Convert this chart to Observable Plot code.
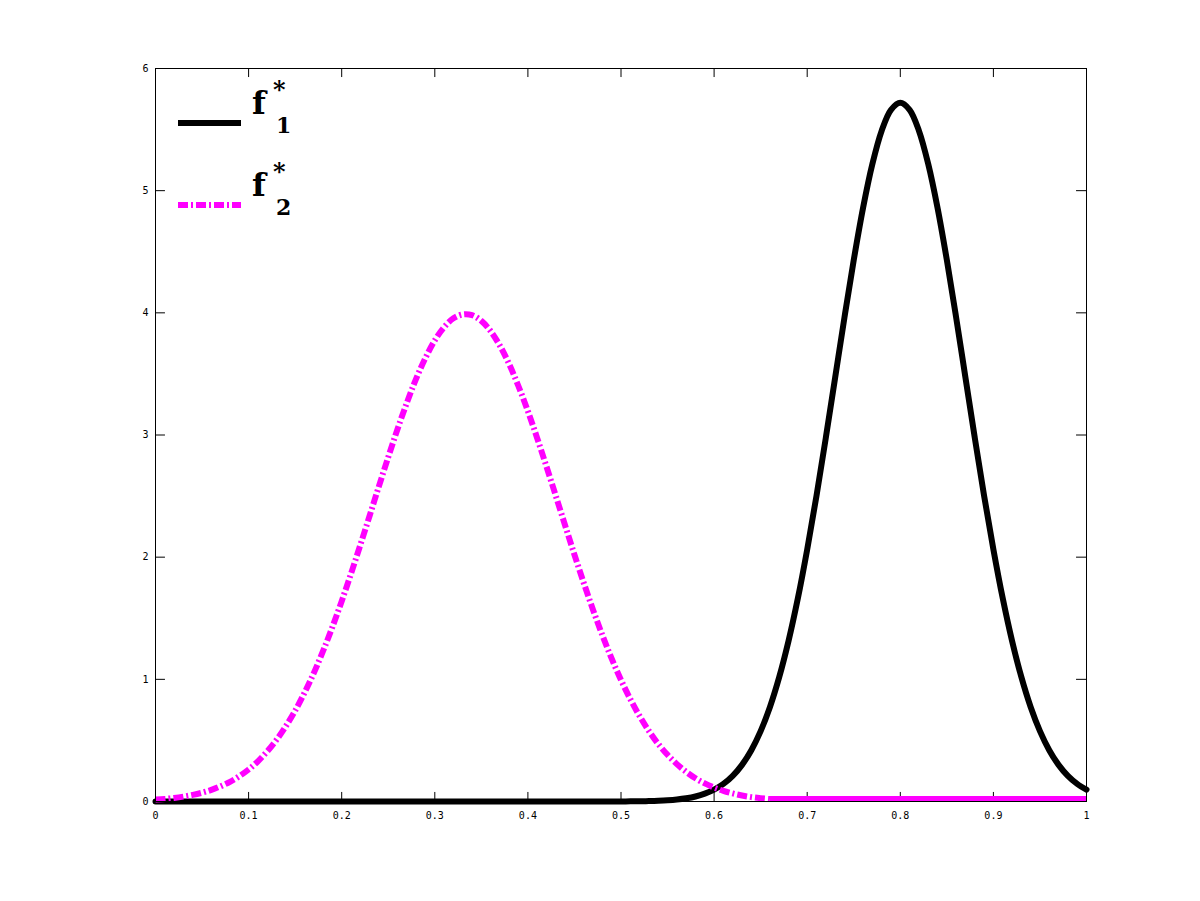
<!DOCTYPE html>
<html>
<head>
<meta charset="utf-8">
<script src="https://cdn.jsdelivr.net/npm/d3@7"></script>
<script src="https://cdn.jsdelivr.net/npm/@observablehq/plot@0.6"></script>
<style>
  html, body { margin: 0; padding: 0; background: #fff; }
  #wrap { position: relative; width: 1200px; height: 901px; }
  #legend { position: absolute; left: 0; top: 0; pointer-events: none; }
</style>
</head>
<body>
<div id="wrap"></div>
<script>
// Sample positions (x) and curve values
const xs = [0,0.01,0.02,0.03,0.04,0.05,0.06,0.07,0.08,0.09,0.10,0.11,0.12,0.13,0.14,0.15,0.16,0.17,0.18,0.19,0.20,0.21,0.22,0.23,0.24,0.25,0.26,0.27,0.28,0.29,0.30,0.31,0.32,0.33,0.34,0.35,0.36,0.37,0.38,0.39,0.40,0.41,0.42,0.43,0.44,0.45,0.46,0.47,0.48,0.49,0.50,0.51,0.52,0.53,0.54,0.55,0.56,0.57,0.58,0.59,0.60,0.61,0.62,0.63,0.64,0.65,0.66,0.67,0.68,0.69,0.70,0.71,0.72,0.73,0.74,0.75,0.76,0.77,0.78,0.79,0.80,0.81,0.82,0.83,0.84,0.85,0.86,0.87,0.88,0.89,0.90,0.91,0.92,0.93,0.94,0.95,0.96,0.97,0.98,0.99,1.00];
const f1 = [0,0,0,0,0,0,0,0,0,0,0,0,0,0,0,0,0,0,0,0,0,0,0,0,0,0,0,0,0,0,0,0,0,0,0,0,0,0,0,0,0,0,0,0,0,0,0,0,0,0,
  0.0006,0.0011,0.0019,0.0034,0.0058,0.0097,0.016,0.026,0.041,0.064,0.097,0.144,0.210,0.300,0.420,0.576,0.774,1.020,1.316,1.664,
  2.063,2.503,2.977,3.469,3.961,4.432,4.859,5.218,5.491,5.662,5.720,5.662,5.491,5.218,4.859,4.432,3.961,3.469,2.977,2.503,
  2.063,1.664,1.316,1.020,0.774,0.576,0.420,0.300,0.210,0.144,0.097];
const f2 = [0.016,0.021,0.029,0.040,0.054,0.072,0.095,0.125,0.161,0.207,0.262,0.329,0.410,0.505,0.616,0.743,0.889,1.051,1.232,1.428,
  1.640,1.865,2.100,2.339,2.581,2.819,3.049,3.264,3.462,3.632,3.775,3.882,3.955,3.987,3.981,3.934,3.850,3.730,3.578,3.397,
  3.195,2.974,2.740,2.501,2.259,2.020,1.789,1.568,1.361,1.169,0.995,0.838,0.699,0.577,0.471,0.382,0.306,0.243,0.190,0.148,
  0.114,0.087,0.066,0.049,0.036,0.027,0.020,0.020,0.020,0.020,0.020,0.020,0.020,0.020,0.020,0.020,0.020,0.020,0.020,0.020,
  0.020,0.020,0.020,0.020,0.020,0.020,0.020,0.020,0.020,0.020,0.020,0.020,0.020,0.020,0.020,0.020,0.020,0.020,0.020,0.020,0.020];
const xTicks = [0,0.1,0.2,0.3,0.4,0.5,0.6,0.7,0.8,0.9,1];
const yTicks = [0,1,2,3,4,5,6];
const seriesNames = ["f", "f"];
const seriesSubs = ["1", "2"];

const d1 = xs.map((x, i) => ({x, y: f1[i]}));
const d2 = xs.map((x, i) => ({x, y: f2[i]}));
const d2dash = d2.filter(d => d.x <= 0.66);
const d2solid = d2.filter(d => d.x >= 0.66);

const tickFont = "DejaVu Sans Mono, monospace";
const DASH = "10 3 2 3";

const plot = Plot.plot({
  width: 1200,
  height: 901,
  marginLeft: 155,
  marginRight: 114,
  marginTop: 68,
  marginBottom: 100,
  style: {fontFamily: tickFont, fontSize: "10px", background: "#fff", color: "#000"},
  x: {domain: [0, 1]},
  y: {domain: [0, 6]},
  marks: [
    Plot.axisX({ticks: xTicks, tickSize: 0, tickPadding: 10, label: null, tickFormat: d3.format("")}),
    Plot.axisY({ticks: yTicks, tickSize: 0, tickPadding: 7, label: null, tickFormat: d3.format("")}),
    // inward ticks on all four sides
    Plot.ruleX(xTicks, {x: d => d, y1: 0, y2: 0.074, stroke: "#000", strokeWidth: 1}),
    Plot.ruleX(xTicks, {x: d => d, y1: 6, y2: 5.926, stroke: "#000", strokeWidth: 1}),
    Plot.ruleY(yTicks, {y: d => d, x1: 0, x2: 0.0107, stroke: "#000", strokeWidth: 1}),
    Plot.ruleY(yTicks, {y: d => d, x1: 1, x2: 0.9893, stroke: "#000", strokeWidth: 1}),
    Plot.line(d1, {x: "x", y: "y", stroke: "#000", strokeWidth: 6, curve: "catmull-rom"}),
    Plot.line(d2dash, {x: "x", y: "y", stroke: "#ff00ff", strokeWidth: 6, curve: "catmull-rom", strokeDasharray: DASH, strokeLinecap: "butt"}),
    Plot.line(d2solid, {x: "x", y: "y", stroke: "#ff00ff", strokeWidth: 6, strokeLinecap: "butt"}),
    Plot.frame({stroke: "#000", strokeWidth: 1})
  ]
});

const wrap = document.getElementById("wrap");
wrap.appendChild(plot);

// Legend overlay
const ns = "http://www.w3.org/2000/svg";
const lg = document.createElementNS(ns, "svg");
lg.setAttribute("id", "legend");
lg.setAttribute("width", 1200);
lg.setAttribute("height", 901);
const entries = [
  {name: seriesNames[0], sub: seriesSubs[0], color: "#000", dash: null, ly: 123, fb: 114, sb: 98, subb: 133},
  {name: seriesNames[1], sub: seriesSubs[1], color: "#ff00ff", dash: DASH, ly: 205, fb: 196, sb: 180, subb: 215}
];
const lf = "DejaVu Serif, serif";
for (const e of entries) {
  const ln = document.createElementNS(ns, "line");
  ln.setAttribute("x1", 178); ln.setAttribute("x2", 241);
  ln.setAttribute("y1", e.ly); ln.setAttribute("y2", e.ly);
  ln.setAttribute("stroke", e.color); ln.setAttribute("stroke-width", 6);
  if (e.dash) ln.setAttribute("stroke-dasharray", e.dash);
  lg.appendChild(ln);
  const mk = (txt, x, y, size) => {
    const t = document.createElementNS(ns, "text");
    t.setAttribute("x", x); t.setAttribute("y", y);
    t.setAttribute("font-family", lf); t.setAttribute("font-weight", "bold");
    t.setAttribute("font-size", size); t.setAttribute("fill", "#000");
    t.textContent = txt;
    lg.appendChild(t);
  };
  mk(e.name, 252, e.fb, 32);
  mk("*", 273, e.sb, 24);
  mk(e.sub, 276, e.subb, 22);
}
wrap.appendChild(lg);
</script>
</body>
</html>
